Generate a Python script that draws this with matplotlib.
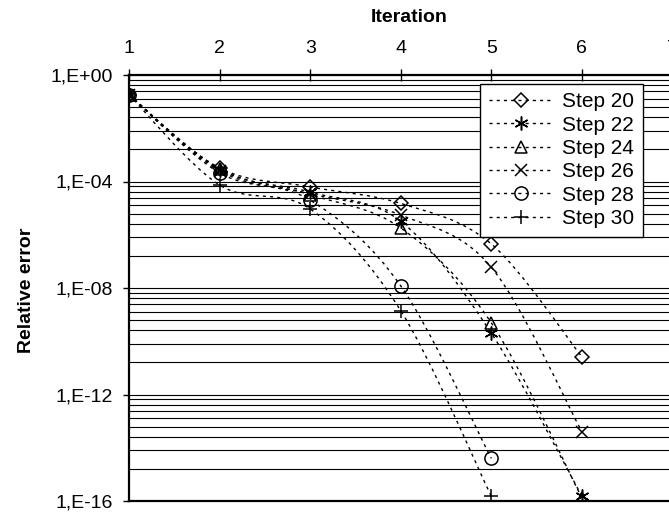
"""
Relative error vs. iteration for several step counts (log scale, Excel-style
smoothed dotted lines, iteration axis on top).
"""
import numpy as np
import matplotlib
matplotlib.use("Agg")
import matplotlib.pyplot as plt
from matplotlib.path import Path
from matplotlib.patches import PathPatch
from matplotlib.lines import Line2D
from matplotlib.ticker import FixedLocator, FixedFormatter

plt.rcParams["font.family"] = ["Liberation Sans", "DejaVu Sans"]

# === Data ===
ITER_LONG = [1, 2, 3, 4, 5, 6]
ITER_SHORT = [1, 2, 3, 4, 5]
STEP_20 = [1.8e-1, 3.2e-4, 6.3e-5, 1.5e-5, 4.5e-7, 2.6e-11]
STEP_22 = [1.8e-1, 2.8e-4, 4.0e-5, 3.2e-6, 2.0e-10, 1.5e-16]
STEP_24 = [1.8e-1, 3.0e-4, 3.2e-5, 1.8e-6, 4.9e-10, 1.3e-16]
STEP_26 = [1.8e-1, 2.5e-4, 3.5e-5, 5.5e-6, 6.0e-8, 4.0e-14]
STEP_28 = [1.8e-1, 2.1e-4, 2.0e-5, 1.2e-8, 4.0e-15]
STEP_30 = [1.8e-1, 7.4e-5, 9.3e-6, 1.4e-9, 1.5e-16]

SERIES = [
    ("Step 20", ITER_LONG, STEP_20, "D", 7.5),
    ("Step 22", ITER_LONG, STEP_22, (6, 2, 0), 10),
    ("Step 24", ITER_LONG, STEP_24, "^", 9),
    ("Step 26", ITER_LONG, STEP_26, "x", 9),
    ("Step 28", ITER_SHORT, STEP_28, "o", 9.5),
    ("Step 30", ITER_SHORT, STEP_30, "+", 10),
]

X_TICKS = [1, 2, 3, 4, 5, 6, 7]
Y_TICKS = [1e0, 1e-4, 1e-8, 1e-12, 1e-16]
Y_TICK_LABELS = ["1,E+00", "1,E-04", "1,E-08", "1,E-12", "1,E-16"]

DASH = (0, (2.2, 3.0))


def smooth_path(xs, ys):
    """Excel-like smoothed line: cubic Beziers built in (x, log10 y) space."""
    p = np.column_stack([np.asarray(xs, float), np.log10(ys)])
    n = len(p)
    verts = [p[0]]
    codes = [Path.MOVETO]
    for i in range(n - 1):
        prev_ = p[max(i - 1, 0)]
        next_ = p[min(i + 2, n - 1)]
        c1 = p[i] + (p[i + 1] - prev_) / 6.0
        c2 = p[i + 1] - (next_ - p[i]) / 6.0
        verts += [c1, c2, p[i + 1]]
        codes += [Path.CURVE4] * 3
    verts = np.array(verts)
    verts[:, 1] = 10.0 ** verts[:, 1]
    return Path(verts, codes)


fig = plt.figure(figsize=(6.69, 5.12), dpi=100)
# plot area runs slightly past the right edge, as in the reference crop
ax = fig.add_axes([129 / 669, 11 / 512, 543.5 / 669, 426 / 512])
ax.set_yscale("log")
ax.set_xlim(1, 7)
ax.set_ylim(1e-16, 1e0)

# horizontal grid: majors every 4 decades, minors at log10(k) fractions of the span
minor = [10.0 ** e * k ** 4 for e in (-16, -12, -8, -4) for k in range(2, 10)]
ax.yaxis.set_major_locator(FixedLocator(Y_TICKS))
ax.yaxis.set_major_formatter(FixedFormatter(Y_TICK_LABELS))
ax.yaxis.set_minor_locator(FixedLocator(minor))
ax.yaxis.set_minor_formatter(FixedFormatter([""] * len(minor)))
ax.grid(True, axis="y", which="both", color="black", linewidth=0.8)
ax.set_axisbelow(True)

ax.xaxis.tick_top()
ax.set_xticks(X_TICKS)
ax.tick_params(axis="x", direction="inout", length=8.5, width=1,
               labelsize=14, pad=9)
ax.tick_params(axis="y", which="major", direction="out", length=4.3, width=1,
               labelsize=14, pad=7)
ax.tick_params(axis="y", which="minor", length=0)

for s in ax.spines.values():
    s.set_linewidth(1.6)
    s.set_color("black")

handles = []
for label, xs, ys, mk, ms in SERIES:
    ax.add_patch(PathPatch(smooth_path(xs, ys), fill=False, edgecolor="black",
                           linewidth=1.0, linestyle=DASH,
                           transform=ax.transData))
    ax.plot(xs, ys, linestyle="none", marker=mk, markersize=ms,
            markerfacecolor="none", markeredgecolor="black",
            markeredgewidth=1.1)
    handles.append(Line2D([], [], color="black", linewidth=1.0, linestyle=DASH,
                          marker=mk, markersize=ms, markerfacecolor="none",
                          markeredgecolor="black", markeredgewidth=1.1,
                          label=label))

leg = ax.legend(handles=handles, loc="upper left",
                bbox_to_anchor=(480 / 669, 1 - 83.5 / 512),
                bbox_transform=fig.transFigure, borderaxespad=0,
                fontsize=15, numpoints=1, handlelength=3.1,
                handletextpad=0.4, labelspacing=0.21, borderpad=0.42,
                fancybox=False, framealpha=1, edgecolor="black")
leg.get_frame().set_linewidth(1.0)

fig.text(409 / 669, 1 - 17 / 512, "Iteration", ha="center", va="center",
         fontsize=14, fontweight="bold")
fig.text(27 / 669, 1 - 290 / 512, "Relative error", ha="center", va="center",
         rotation=90, fontsize=14, fontweight="bold")

fig.savefig("out.png", dpi=100)
plt.close(fig)
